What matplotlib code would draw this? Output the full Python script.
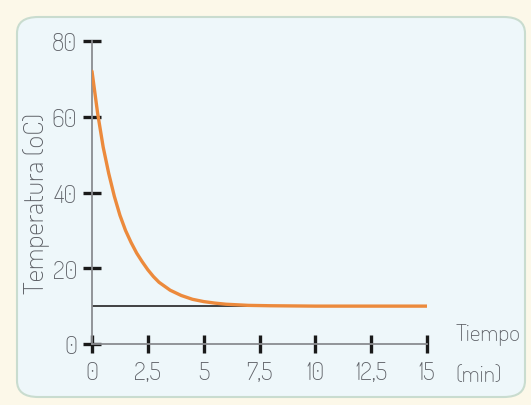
import numpy as np
import matplotlib
matplotlib.use('Agg')
import matplotlib.pyplot as plt
from matplotlib.patches import FancyBboxPatch
from matplotlib import font_manager

########################################
# Data
########################################

time_min = [0, 0.25, 0.5, 0.75, 1, 1.25, 1.5, 1.75, 2, 2.25, 2.5, 2.75, 3,
            3.5, 4, 4.5, 5, 5.5, 6, 7, 8, 10, 12, 15]
temp_c = [72, 61, 52, 45, 39, 34, 30, 26.8, 24, 21.7, 19.6, 17.8, 16.3,
          14.2, 12.8, 11.8, 11.2, 10.8, 10.5, 10.2, 10.1, 10, 10, 10]
room_temp = 10
room_t_end = 7

xticks = [0, 2.5, 5, 7.5, 10, 12.5, 15]
xtick_labels = ['0', '2,5', '5', '7,5', '10', '12,5', '15']
yticks = [0, 20, 40, 60, 80]

########################################
# Font: a thin narrow one if there is any
########################################

names = {f.name for f in font_manager.fontManager.ttflist}
font = 'DejaVu Sans'
for cand in ['Dosis', 'Abel', 'Ubuntu Condensed', 'Roboto Condensed',
             'Archivo Narrow', 'PT Sans Narrow', 'Liberation Sans Narrow']:
    if cand in names:
        font = cand
        break
plt.rcParams['font.family'] = [font, 'DejaVu Sans']

TXT = '#5d6066'

fig = plt.figure(figsize=(5.31, 4.06), dpi=100)
fig.patch.set_facecolor('#fcf8e9')

# rounded panel behind the chart
panel = FancyBboxPatch((17 / 531, 8 / 406), 508 / 531, 380 / 406,
                       boxstyle='round,pad=0,rounding_size=0.04',
                       transform=fig.transFigure, facecolor='#eef7fa',
                       edgecolor='#c9dccf', linewidth=1.5, zorder=-5)
fig.patches.append(panel)

ax = fig.add_axes([92 / 531, (406 - 345) / 406, 335 / 531, 303 / 406])
ax.set_facecolor('none')
ax.set_zorder(5)

ax.plot([0, room_t_end], [room_temp, room_temp], color='#222222', lw=1.2, zorder=2)
ax.plot(time_min, temp_c, color='#ec8a3c', lw=2.4, zorder=3, solid_capstyle='round')

ax.set_xlim(0, 15)
ax.set_ylim(0, 80)
for s in ['top', 'right']:
    ax.spines[s].set_visible(False)
for s in ['left', 'bottom']:
    ax.spines[s].set_color('#8a8c90')
    ax.spines[s].set_linewidth(1.3)

ax.set_xticks(xticks)
ax.set_xticklabels(xtick_labels)
ax.set_yticks(yticks)
ax.tick_params(direction='inout', length=13, width=2.4, color='#1a1a1a',
               labelcolor=TXT, labelsize=18, pad=5)
ax.tick_params(axis='y', pad=4)

fig.text(37 / 531, 1 - 203 / 406, 'Temperatura (oC)', rotation=90,
         color=TXT, fontsize=20, ha='center', va='center')
ax.text(1.085, 0.036, 'Tiempo', transform=ax.transAxes, color=TXT,
        fontsize=17, ha='left', va='center')
ax.text(1.085, -0.10, '(min)', transform=ax.transAxes, color=TXT,
        fontsize=17, ha='left', va='center')

fig.savefig('out.png', dpi=100, facecolor=fig.get_facecolor())
